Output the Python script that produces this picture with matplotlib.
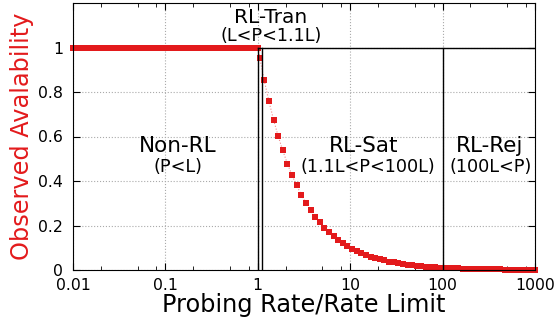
import numpy as np
import matplotlib
matplotlib.use("Agg")
import matplotlib.pyplot as plt
from matplotlib.ticker import LogLocator, NullFormatter

# probing rate / rate limit (about 20 points per decade)
rate_below = [0.01, 0.0112, 0.0126, 0.0141, 0.0158, 0.0178, 0.02, 0.0224, 0.0251, 0.0282,
              0.0316, 0.0355, 0.0398, 0.0447, 0.0501, 0.0562, 0.0631, 0.0708, 0.0794, 0.0891,
              0.1, 0.112, 0.126, 0.141, 0.158, 0.178, 0.2, 0.224, 0.251, 0.282,
              0.316, 0.355, 0.398, 0.447, 0.501, 0.562, 0.631, 0.708, 0.794, 0.891, 1.0]
avail_below = [1.0] * len(rate_below)

rate_above = [1.047, 1.17, 1.32, 1.48, 1.66, 1.86, 2.09, 2.34, 2.63, 2.95,
              3.31, 3.72, 4.17, 4.68, 5.25, 5.89, 6.61, 7.41, 8.32, 9.33,
              10.5, 11.7, 13.2, 14.8, 16.6, 18.6, 20.9, 23.4, 26.3, 29.5,
              33.1, 37.2, 41.7, 46.8, 52.5, 58.9, 66.1, 74.1, 83.2, 93.3,
              105, 117, 132, 148, 166, 186, 209, 234, 263, 295,
              331, 372, 417, 468, 525, 589, 661, 741, 832, 933, 1000]
avail_above = [0.955, 0.855, 0.758, 0.676, 0.602, 0.538, 0.478, 0.427, 0.380, 0.339,
               0.302, 0.269, 0.240, 0.214, 0.190, 0.170, 0.151, 0.135, 0.120, 0.107,
               0.0955, 0.0855, 0.0758, 0.0676, 0.0602, 0.0538, 0.0478, 0.0427, 0.0380, 0.0339,
               0.0302, 0.0269, 0.0240, 0.0214, 0.0190, 0.0170, 0.0151, 0.0135, 0.0120, 0.0107,
               0.00955, 0.00855, 0.00758, 0.00676, 0.00602, 0.00538, 0.00478, 0.00427, 0.00380, 0.00339,
               0.00302, 0.00269, 0.00240, 0.00214, 0.00190, 0.00170, 0.00151, 0.00135, 0.00120, 0.00107, 0.001]

rate = rate_below + rate_above
avail = avail_below + avail_above

# region boundaries and labels
bounds = [1.0, 1.1, 100]
regions = [("Non-RL", "(P<L)", 0.137, 0.135),
           ("RL-Sat", "(1.1L<P<100L)", 14, 15.5),
           ("RL-Rej", "(100L<P)", 320, 330)]

red = "#e31a1c"

fig = plt.figure(figsize=(5.55, 3.26), dpi=100)
ax = fig.add_axes([73 / 555, 1 - 270 / 326, (535 - 73) / 555, (270 - 3) / 326])

ax.plot(rate, avail, linestyle=":", color=red, alpha=0.5, lw=0.8)
ax.plot(rate, avail, "s", color=red, markersize=3.8, markeredgewidth=0, clip_on=False)

# region box lines
ax.plot([1.0, 1000], [1, 1], color="black", lw=1)
for b in bounds:
    ax.plot([b, b], [0, 1], color="black", lw=1)

ax.set_xscale("log")
ax.set_xlim(0.01, 1000)
ax.set_ylim(0, 1.2)
ax.set_xticks([0.01, 0.1, 1, 10, 100, 1000])
ax.set_xticklabels(["0.01", "0.1", "1", "10", "100", "1000"])
ax.xaxis.set_minor_locator(LogLocator(base=10, subs=[2, 5, 8]))
ax.xaxis.set_minor_formatter(NullFormatter())
ax.set_yticks([0, 0.2, 0.4, 0.6, 0.8, 1])
ax.set_yticklabels(["0", "0.2", "0.4", "0.6", "0.8", "1"])
ax.tick_params(which="both", direction="in", top=True, right=True, labelsize=11.3)
ax.tick_params(axis="x", which="major", pad=6)
ax.tick_params(axis="y", which="major", pad=7)
ax.tick_params(which="major", length=5)
ax.tick_params(which="minor", length=3)
ax.grid(True, which="major", linestyle=":", color="#aaaaaa", lw=0.8)

ax.text(1.38, 1.135, "RL-Tran", ha="center", va="center", fontsize=14.5)
ax.text(1.38, 1.05, "(L<P<1.1L)", ha="center", va="center", fontsize=12.7)
for title, sub, xt, xs in regions:
    ax.text(xt, 0.556, title, ha="center", va="center", fontsize=15.5)
    ax.text(xs, 0.465, sub, ha="center", va="center", fontsize=12.7)

ax.set_ylabel("Observed Avalability", color=red, fontsize=17.3, labelpad=3)
ax.set_xlabel("Probing Rate/Rate Limit", fontsize=17.3, labelpad=0)

fig.savefig("out.png", dpi=100)
